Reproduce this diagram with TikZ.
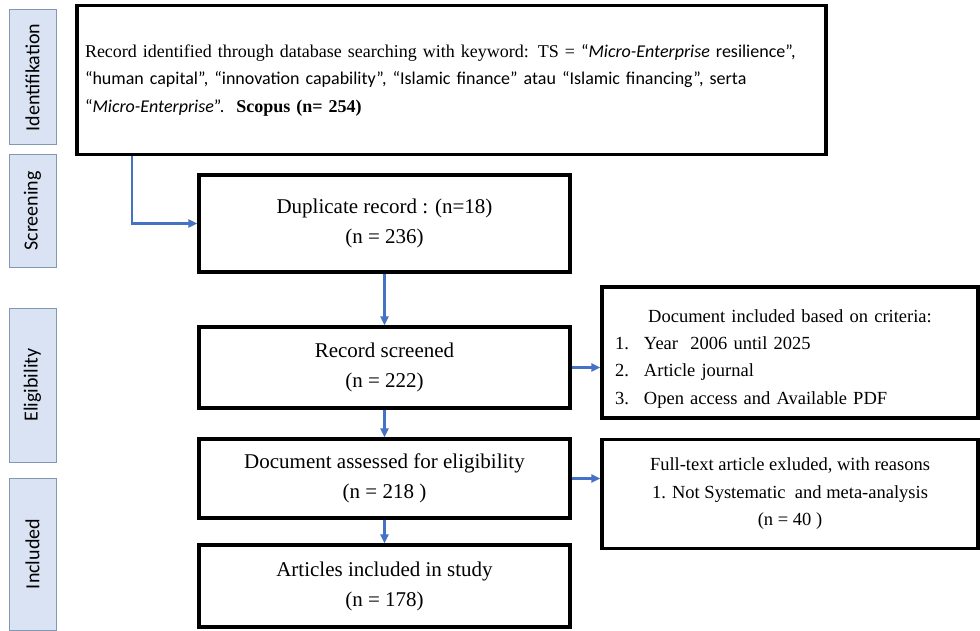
\documentclass[tikz,border=0pt]{standalone}
\usepackage{fontspec}
\setmainfont{Liberation Serif}
\newfontfamily\calibri{Carlito}
\usetikzlibrary{arrows.meta}

\definecolor{phasefill}{HTML}{DAE3F3}
\definecolor{phaseline}{HTML}{8497B0}
\definecolor{flowblue}{HTML}{4472C4}

\tikzset{
  phase/.style={draw=phaseline,line width=1pt,fill=phasefill,rotate=90,minimum height=47pt,inner sep=0pt,
    font=\calibri\fontsize{20}{22}\selectfont},
  stepbox/.style={draw,line width=3.4pt,align=center,minimum width=371pt,
    font=\fontsize{21}{30}\selectfont},
  sidebox/.style={draw,line width=3.4pt,minimum width=376pt,
    font=\fontsize{18.5}{27.5}\selectfont},
  flow/.style={draw=flowblue,line width=2.2pt,-{Triangle[length=9pt,width=8pt]}}
}

\begin{document}
\begin{tikzpicture}[x=1pt,y=-1pt]
  \useasboundingbox (0,0) rectangle (980,631);

  % Phase labels
  \foreach \name/\y/\len/\phasetext in {phid/77.5/135/Identifikation,phsc/211/112/Screening,phel/385/154/Eligibility,phin/554/152/Included}
  {
    \node[phase,minimum width=\len pt] (\name) at (32.5,\y) {\phasetext};
  }

  % Search box
  \node[draw,line width=3.4pt,align=left,text width=733pt,minimum height=149pt,inner sep=8pt,
    font=\fontsize{18}{27.5}\selectfont] (ident) at (451.5,80)
    {Record identified through database searching with keyword: TS = {\calibri “\textit{Micro-Enterprise} resilience”,}\\
     {\calibri “human capital”, “innovation capability”, “Islamic finance” atau “Islamic financing”, serta}\\
     {\calibri “\textit{Micro-Enterprise}”.}\ \ \textbf{Scopus (n= 254)}};

  % Flow boxes
  \node[stepbox,minimum height=97pt] (dup) at (384.5,223.5) {Duplicate record : (n=18)\\(n = 236)};
  \node[stepbox,minimum height=81pt] (screened) at (384.5,367.5) {Record screened\\(n = 222)};
  \node[stepbox,minimum height=79pt] (assessed) at (384.5,478.5) {Document assessed for eligibility\\(n = 218 )};
  \node[stepbox,minimum height=82pt] (articles) at (384.5,586) {Articles included in study\\(n = 178)};

  % Side boxes
  \node[sidebox,align=left,text width=350pt,inner xsep=13pt,minimum height=131pt] (criteria) at (790,352.5)
    {\rule{0pt}{26pt}\hfill Document included based on criteria:\hfill\null\\[-1pt]
     \makebox[29pt][l]{1.}Year\ \ 2006 until 2025\\
     \makebox[29pt][l]{2.}Article journal\\
     \makebox[29pt][l]{3.}Open access and Available\ PDF};
  \node[sidebox,align=center,minimum height=109pt] (fulltext) at (790,494)
    {Full-text article exluded, with reasons\\1. Not Systematic\ \ and meta-analysis\\(n = 40 )};

  % Arrows
  \draw[flow] ([xshift=57pt]ident.south west) |- (dup.west);
  \draw[flow] (dup) -- (screened);
  \draw[flow] (screened) -- (assessed);
  \draw[flow] (assessed) -- (articles);
  \draw[flow] (screened.east) -- (screened.east -| criteria.west);
  \draw[flow] (assessed.east) -- (assessed.east -| fulltext.west);
\end{tikzpicture}
\end{document}
